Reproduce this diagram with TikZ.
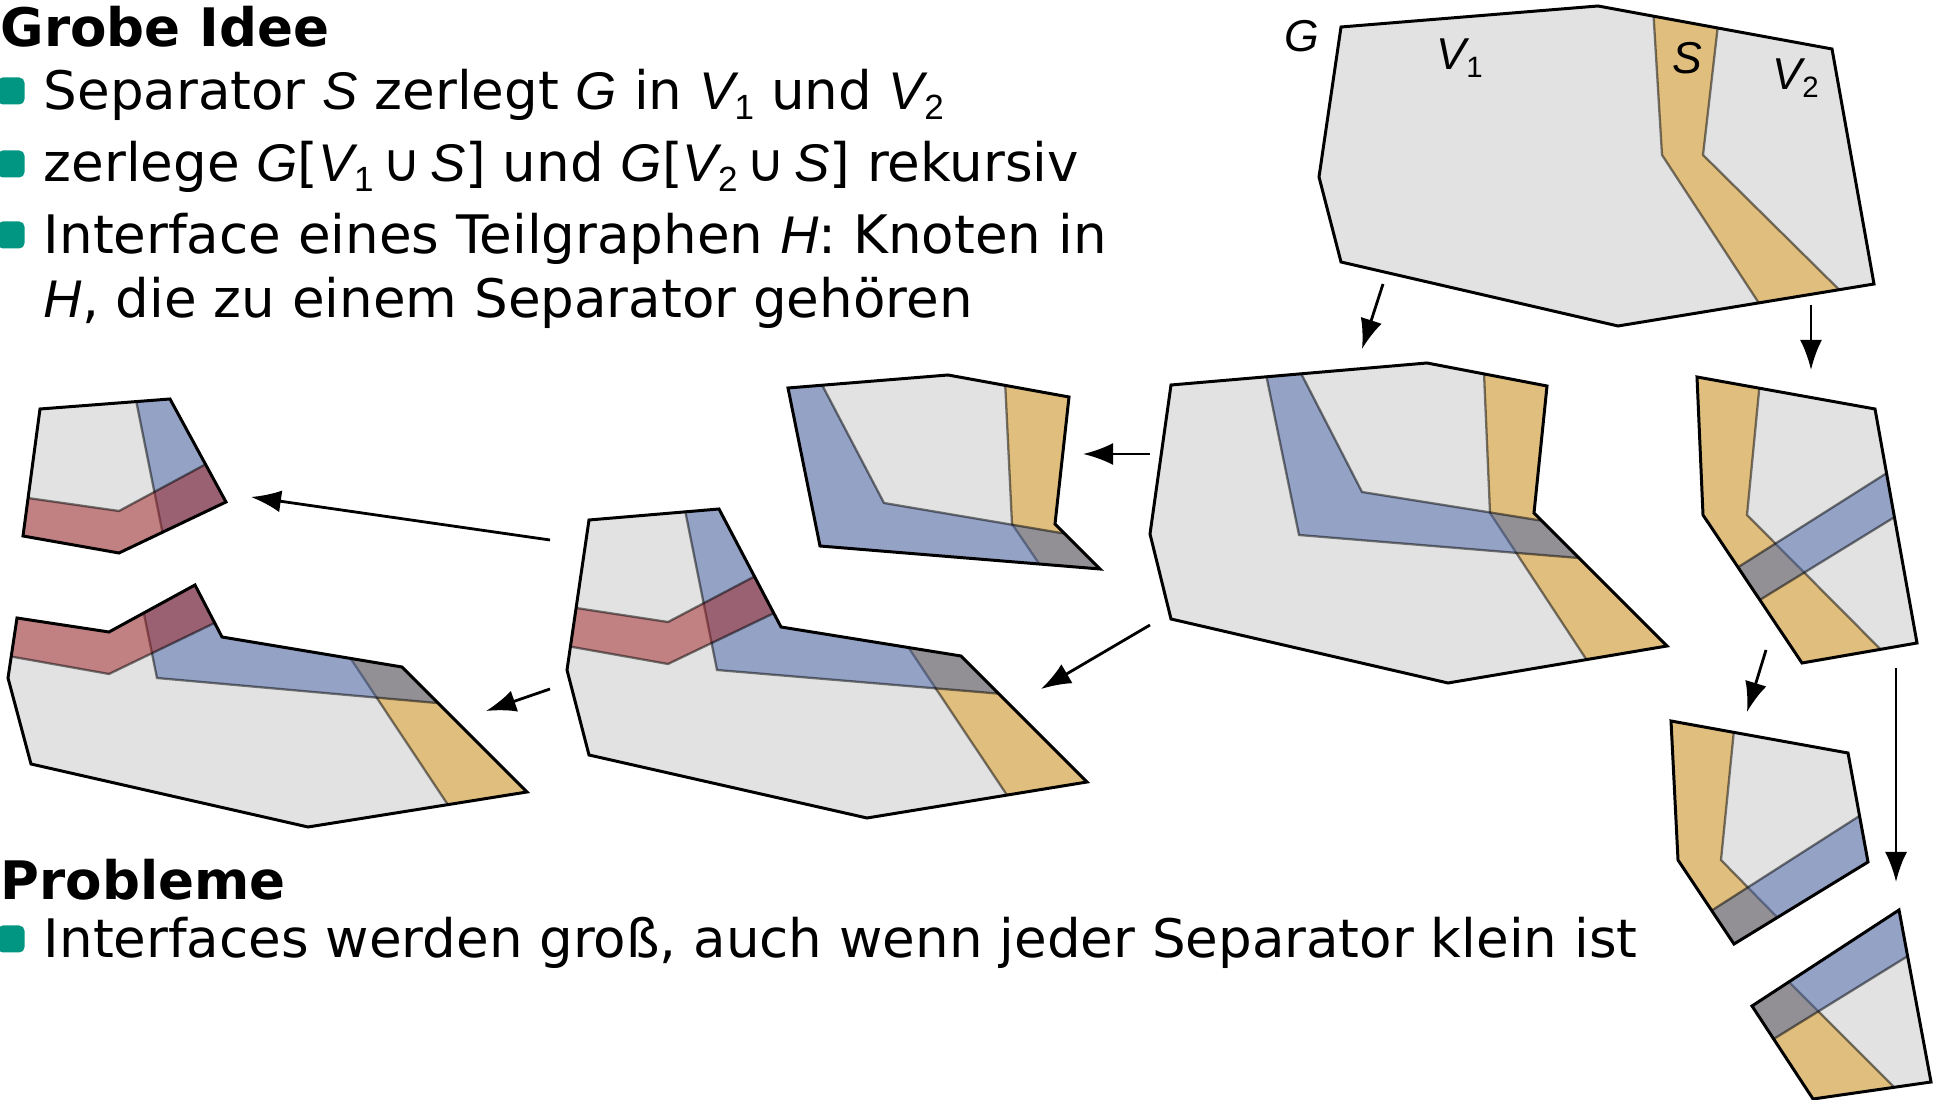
\documentclass[tikz,border=0pt]{standalone}
\usepackage{fontspec}
\setmainfont{DejaVu Sans}
\newfontfamily\varfont{Liberation Sans}
\usepackage{graphicx}
\usepackage{tikz}
\usetikzlibrary{arrows.meta}

\definecolor{kitgreen}{RGB}{0,150,130}
\definecolor{kitblue}{RGB}{70,100,170}
\definecolor{kityellow}{RGB}{223,155,27}
\definecolor{kitred}{RGB}{162,34,35}
\definecolor{partgray}{RGB}{226,226,226}

\newcommand{\mvar}[1]{{\varfont\itshape #1}}
\newcommand{\vsub}[1]{\raisebox{-0.17em}{\scalebox{0.66}{\varfont\upshape #1}}}
\newcommand{\graphpiece}[2]{%
  \fill[partgray] #1 -- cycle;
  \begin{scope}
    \clip #1 -- cycle;
    #2
  \end{scope}
  \draw[rim] #1 -- cycle;}

\begin{document}
\begin{tikzpicture}[x=0.1mm, y=-0.1mm,
  rim/.style={line width=0.85pt},
  sepY/.style={fill=kityellow, draw=black, opacity=.5, line width=0.65pt},
  sepB/.style={fill=kitblue, draw=black, opacity=.5, line width=0.65pt},
  sepR/.style={fill=kitred, draw=black, opacity=.5, line width=0.65pt},
  arr/.style={-{Latex[length=3mm, width=2.2mm]}, line width=0.8pt},
  bullet/.style={fill=kitgreen, rounded corners=1.5pt, minimum size=2.7mm, inner sep=0pt},
  txt/.style={anchor=base west, inner sep=0pt, font=\fontsize{15.1pt}{18pt}\selectfont},
  head/.style={txt, font=\fontsize{15.1pt}{18pt}\selectfont\bfseries},
  lbl/.style={anchor=base west, inner sep=0pt, font=\fontsize{12.7pt}{14pt}\selectfont}]
\useasboundingbox (0,0) rectangle (1938,1100);

% text
\node[head] (idea) at (0,47) {Grobe Idee};
\node[txt] (i1) at (43,110) {Separator \mvar{S} zerlegt \mvar{G} in \mvar{V}\vsub{1} und \mvar{V}\vsub{2}};
\node[txt] (i2) at (43,182) {zerlege \mvar{G}[\mvar{V}\vsub{1}\,∪\,\mvar{S}] und \mvar{G}[\mvar{V}\vsub{2}\,∪\,\mvar{S}] rekursiv};
\node[txt] (i3) at (43,254) {Interface eines Teilgraphen \mvar{H}: Knoten in};
\node[txt] (i3b) at (43,318) {\mvar{H}, die zu einem Separator gehören};
\node[head] (probs) at (0,900) {Probleme};
\node[txt] (p1) at (43,958) {Interfaces werden groß, auch wenn jeder Separator klein ist};
\foreach \n/\y in {b1/91, b2/164, b3/235, b4/939}
  \node[bullet] (\n) at (11,\y) {};

% G
\graphpiece{(1341,27) -- (1598,6) -- (1832,49) -- (1874,284) -- (1618,326) -- (1341,262) -- (1319,177)}{
  \filldraw[sepY] (1652,-10) -- (1662,155) -- (1783,340) -- (1890,340) -- (1703,155) -- (1722,-10) -- cycle;}
\node[lbl] (lG) at (1284,52) {\mvar{G}};
\node[lbl] (lV1) at (1436,70) {\mvar{V}\vsub{1}};
\node[lbl] (lS) at (1672,74) {\mvar{S}};
\node[lbl] (lV2) at (1772,90) {\mvar{V}\vsub{2}};

% G[V1 + S]
\graphpiece{(1171,385) -- (1427,363) -- (1547,386) -- (1534,513) -- (1667,646) -- (1448,683) -- (1171,619) -- (1150,534)}{
  \filldraw[sepY] (1483,350) -- (1490,513) -- (1613,700) -- (1700,700) -- (1700,350) -- cycle;
  \filldraw[sepB] (1261,350) -- (1299,535) -- (1700,568) -- (1700,546) -- (1362,492) -- (1289,350) -- cycle;}

% G[V2 + S]
\graphpiece{(1697,377) -- (1875,409) -- (1917,643) -- (1802,663) -- (1703,515)}{
  \filldraw[sepY] (1763,350) -- (1747,515) -- (1921,690) -- (1650,690) -- (1650,350) -- cycle;
  \filldraw[sepB] (1950,433) -- (1680,604) -- (1680,649) -- (1950,483) -- cycle;}

\graphpiece{(1671,721) -- (1848,753) -- (1868,862) -- (1734,944) -- (1678,860)}{
  \filldraw[sepY] (1737,700) -- (1721,860) -- (1829,970) -- (1640,970) -- (1640,700) -- cycle;
  \filldraw[sepB] (1900,790) -- (1650,950) -- (1650,1000) -- (1900,1000) -- cycle;}

\graphpiece{(1899,910) -- (1931,1082) -- (1813,1099) -- (1752,1006)}{
  \filldraw[sepY] (1757,950) -- (1927,1120) -- (1720,1120) -- (1720,950) -- cycle;
  \filldraw[sepB] (1950,930) -- (1730,1066) -- (1730,880) -- (1950,880) -- cycle;}

% parts of G[V1 + S]
\graphpiece{(788,388) -- (948,375) -- (1069,397) -- (1055,524) -- (1100,569) -- (820,546)}{
  \filldraw[sepY] (1004,360) -- (1012,524) -- (1057,590) -- (1120,590) -- (1120,360) -- cycle;
  \filldraw[sepB] (809,360) -- (884,503) -- (1120,543) -- (1120,590) -- (770,590) -- (770,360) -- cycle;}

\graphpiece{(589,520) -- (719,509) -- (781,627) -- (961,656) -- (1087,782) -- (867,818) -- (589,755) -- (567,670)}{
  \filldraw[sepY] (890,620) -- (1037,840) -- (1110,840) -- (1110,620) -- cycle;
  \filldraw[sepB] (681,490) -- (717,670) -- (1110,703) -- (1110,490) -- cycle;
  \filldraw[sepR] (550,604) -- (668,622) -- (820,542) -- (820,591) -- (668,664) -- (550,643) -- cycle;}

\graphpiece{(40,409) -- (170,399) -- (226,502) -- (119,553) -- (23,536)}{
  \filldraw[sepB] (132,380) -- (172,580) -- (260,580) -- (260,380) -- cycle;
  \filldraw[sepR] (0,494) -- (119,511) -- (260,435) -- (260,580) -- (0,580) -- cycle;}

\graphpiece{(17,618) -- (109,632) -- (195,585) -- (222,637) -- (402,667) -- (527,792) -- (308,827) -- (31,764) -- (8,678)}{
  \filldraw[sepY] (325,620) -- (478,850) -- (560,850) -- (560,620) -- cycle;
  \filldraw[sepB] (133,560) -- (157,678) -- (560,714) -- (560,560) -- cycle;
  \filldraw[sepR] (-20,651) -- (109,674) -- (260,601) -- (260,560) -- (-20,560) -- cycle;}

% arrows
\coordinate (gA) at (1383,284);  \coordinate (sA) at (1362,349);
\coordinate (gB) at (1811,305);  \coordinate (sB) at (1811,370);
\coordinate (sC) at (1150,454);  \coordinate (tC) at (1083,454);
\coordinate (sD) at (1150,625);  \coordinate (tD) at (1041,689);
\coordinate (tE) at (550,540);   \coordinate (uE) at (251,497);
\coordinate (tF) at (550,689);   \coordinate (uF) at (486,711);
\coordinate (sG) at (1766,650);  \coordinate (tG) at (1747,712);
\coordinate (sH) at (1896,668);  \coordinate (tH) at (1896,882);
\foreach \x/\y in {gA/sA,gB/sB,sC/tC,sD/tD,tE/uE,tF/uF,sG/tG,sH/tH} \draw[arr] (\x) -- (\y);
\end{tikzpicture}
\end{document}
